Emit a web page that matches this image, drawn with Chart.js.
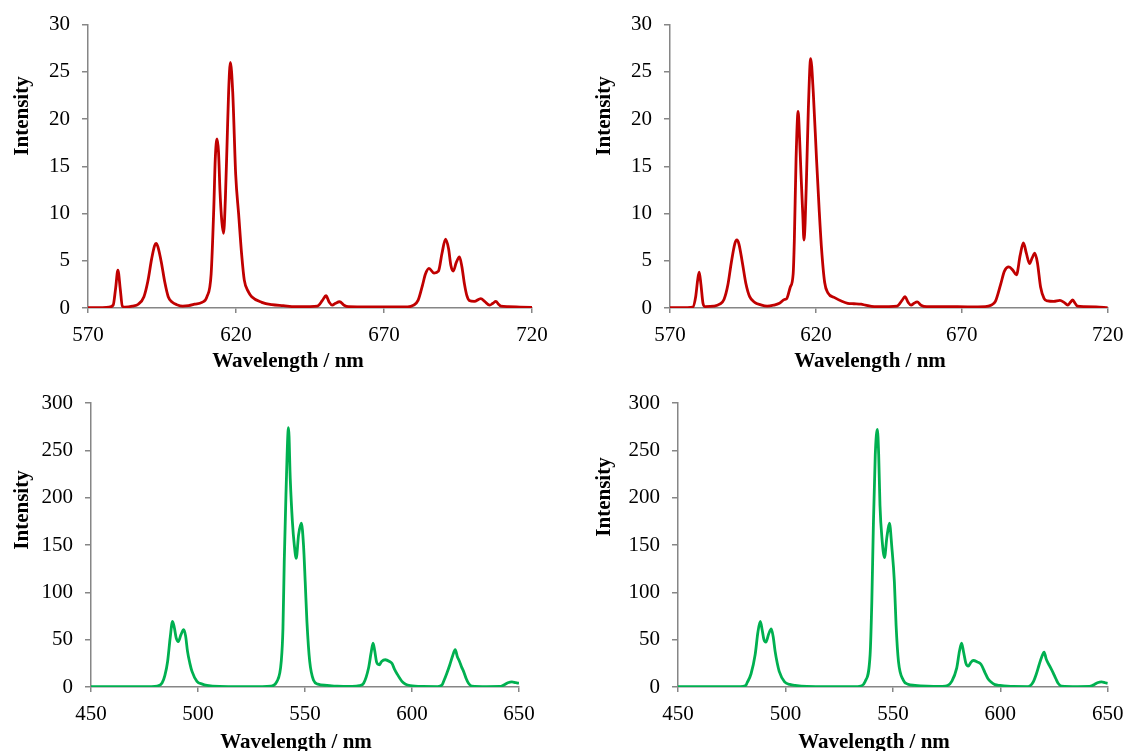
<!DOCTYPE html>
<html>
<head>
<meta charset="utf-8">
<script src="https://cdn.jsdelivr.net/npm/chart.js@4.4.0/dist/chart.umd.min.js"></script>
<style>
  html, body { margin: 0; padding: 0; background: #fff; }
  #page { position: relative; width: 1133px; height: 751px; overflow: hidden; }
  #page canvas { position: absolute; left: 0; top: 0; }
  .title {
    position: absolute;
    font: bold 21px 'Liberation Serif', 'Times New Roman', serif;
    color: #000;
    white-space: nowrap;
    line-height: 1;
  }
  .xt { transform: translate(-50%, -50%); }
  .yt { transform: translate(-50%, -50%) rotate(-90deg); }
</style>
</head>
<body>
<div id="page">
  <canvas id="chartTL" width="1133" height="751"></canvas>
  <canvas id="chartTR" width="1133" height="751"></canvas>
  <canvas id="chartBL" width="1133" height="751"></canvas>
  <canvas id="chartBR" width="1133" height="751"></canvas>

  <div class="title yt" style="left:21px; top:116px;">Intensity</div>
  <div class="title yt" style="left:603px; top:116px;">Intensity</div>
  <div class="title yt" style="left:21px; top:510px;">Intensity</div>
  <div class="title yt" style="left:603px; top:497px;">Intensity</div>
  <div class="title xt" style="left:288px; top:360px;">Wavelength / nm</div>
  <div class="title xt" style="left:870px; top:360px;">Wavelength / nm</div>
  <div class="title xt" style="left:296px; top:741px;">Wavelength / nm</div>
  <div class="title xt" style="left:874px; top:741px;">Wavelength / nm</div>
</div>

<script>
// Spectrum data (wavelength in nm, intensity)
const redAWave = [570, 574, 577, 578.5, 579.3, 580.1, 580.9, 581.6, 582.5, 585, 587, 588.9, 590.2, 591.5, 592.5, 593.0, 593.6, 594.8, 595.9, 597.1, 598.5, 600, 602, 604, 606, 608.5, 610.2, 611.6, 612.5, 613.0, 613.6, 614.1, 614.6, 615.2, 615.8, 616.4, 617.0, 617.5, 618.1, 618.9, 619.9, 620.9, 621.9, 622.8, 624.2, 625.3, 628.7, 632.1, 636, 640, 645, 647.5, 649.2, 650.4, 651.5, 652.5, 653.6, 655.0, 656.5, 658, 665, 672, 678, 680, 681.5, 683, 684, 685.2, 686.9, 688.4, 689.6, 690.8, 691.8, 692.6, 693.4, 694.4, 695.5, 696.3, 697.2, 698, 698.8, 700.5, 702.7, 704, 705.7, 706.8, 707.8, 708.7, 709.5, 712, 716, 720];
const redAInt  = [0.05, 0.05, 0.08, 0.3, 2.0, 4.0, 2.0, 0.2, 0.1, 0.2, 0.4, 1.2, 2.8, 5.2, 6.6, 6.85, 6.5, 4.8, 2.8, 1.2, 0.6, 0.35, 0.2, 0.25, 0.4, 0.6, 1.2, 3.6, 10.6, 15.8, 17.9, 16.5, 12.3, 9.2, 7.9, 11.5, 17.6, 22.8, 26.0, 22.8, 14.1, 9.9, 5.7, 2.95, 1.7, 1.2, 0.6, 0.35, 0.25, 0.15, 0.15, 0.2, 0.8, 1.3, 0.6, 0.3, 0.5, 0.66, 0.3, 0.15, 0.12, 0.12, 0.12, 0.3, 0.8, 2.4, 3.6, 4.2, 3.7, 3.9, 5.8, 7.3, 6.3, 4.5, 3.9, 4.8, 5.4, 4.4, 2.5, 1.3, 0.8, 0.7, 1.0, 0.7, 0.3, 0.5, 0.7, 0.4, 0.2, 0.15, 0.1, 0.05];

const redBWave = [570, 576, 577.8, 578.8, 579.5, 580.0, 580.6, 581.3, 582, 585, 587, 588.5, 589.8, 591, 592.2, 592.9, 593.6, 594.8, 596, 597.3, 599, 601, 603.3, 605.5, 607.5, 609.2, 610.0, 611.2, 612.2, 612.6, 613.2, 613.9, 614.4, 614.9, 615.5, 615.9, 616.3, 616.8, 617.4, 618.2, 619.1, 620.2, 621.1, 621.9, 623.0, 624.1, 626.4, 630.9, 633, 635.5, 637, 640, 645, 647.8, 649.5, 650.5, 651.6, 652.6, 653.6, 654.7, 656, 658, 665, 672, 678, 680, 681.5, 683.3, 684.6, 686.1, 687.5, 688.7, 690, 691.1, 692.1, 693.2, 694.1, 695.0, 695.9, 697.0, 698.2, 699.4, 701.5, 703.6, 705, 706.3, 707.2, 708.0, 708.8, 709.6, 712, 716, 720];
const redBInt  = [0.05, 0.05, 0.1, 1.2, 3.0, 3.8, 2.5, 0.5, 0.15, 0.2, 0.4, 0.9, 2.4, 4.8, 6.8, 7.2, 6.8, 4.8, 2.6, 1.2, 0.6, 0.35, 0.2, 0.3, 0.5, 0.9, 1.0, 2.2, 3.6, 7.1, 15.8, 20.8, 18.0, 14.1, 9.9, 7.2, 9.0, 14.1, 21.0, 26.4, 22.8, 15.8, 10.5, 6.4, 2.7, 1.6, 1.1, 0.5, 0.45, 0.4, 0.3, 0.15, 0.15, 0.2, 0.8, 1.2, 0.6, 0.3, 0.5, 0.65, 0.3, 0.15, 0.15, 0.12, 0.15, 0.3, 0.7, 2.5, 3.9, 4.35, 4.0, 3.5, 5.6, 6.9, 5.8, 4.7, 5.3, 5.8, 4.8, 2.2, 1.0, 0.75, 0.7, 0.8, 0.6, 0.3, 0.6, 0.85, 0.5, 0.2, 0.15, 0.12, 0.05];

const greenAWave = [450, 470, 478, 481, 483.2, 484.5, 485.8, 487, 488.1, 489.0, 489.8, 490.8, 492, 493.3, 494.2, 495.1, 496.2, 497.2, 499.5, 502, 504.2, 510, 520, 530, 534, 536.9, 538.9, 539.7, 540.3, 541.1, 542.3, 543.1, 544.1, 545.0, 545.9, 547.0, 548.3, 549.3, 550.1, 550.9, 552.2, 554.0, 556, 560.3, 565, 572, 575.5, 577.4, 579.7, 580.8, 581.8, 582.6, 583.5, 584.7, 585.8, 587.5, 589.5, 590.6, 591.8, 593.0, 595.3, 597, 599.2, 605, 612, 614, 614.8, 616.2, 617.6, 619, 620.2, 621.2, 622.2, 623.2, 624.1, 625.3, 626.4, 628, 635, 641, 642.8, 644.8, 646.7, 648.5, 650];
const greenAInt  = [0.3, 0.3, 0.4, 1.0, 4.2, 12, 27, 52, 69.3, 62, 52, 48, 55, 60.5, 54, 37.6, 25, 16.5, 6, 3, 1.7, 0.6, 0.4, 0.4, 0.8, 5.9, 27, 62, 132, 203, 274, 220.5, 175, 150, 136, 160.7, 173, 150, 111, 69, 27, 7, 3, 1.7, 0.8, 0.6, 1.5, 4, 20, 35, 46.4, 38, 26, 23.5, 27, 28.8, 27, 25, 19, 14, 6, 3, 1.5, 0.6, 0.5, 2, 6, 14, 23, 33, 39.4, 32, 27, 21, 16.5, 9, 4, 1, 0.5, 0.6, 2, 4.5, 5.5, 4.5, 4];

const greenBWave = [450, 470, 479, 481.5, 482.1, 484, 485.9, 487.2, 488.3, 489.2, 490.0, 490.9, 492.2, 493.4, 494.3, 495.2, 496.2, 497.1, 499.6, 502, 504.5, 510, 520, 532, 535, 537.1, 539.4, 540.2, 540.9, 541.8, 542.8, 543.4, 544.0, 545.0, 546.1, 547.2, 548.4, 549.5, 550.7, 551.5, 552.6, 554.9, 557, 560.3, 566, 573, 575.5, 577.4, 579.7, 581, 582.0, 582.9, 584, 585.1, 586.3, 587.4, 589.3, 591.0, 592.9, 594.2, 595.7, 597.5, 599.9, 606, 613, 615.3, 616.8, 618.0, 619.3, 620.4, 621.3, 622.3, 623.5, 624.6, 625.8, 626.9, 628.5, 636, 641.5, 643.2, 645.2, 647.1, 648.8, 650];
const greenBInt  = [0.3, 0.3, 0.4, 1.5, 4.2, 14, 34, 58, 69.3, 60, 50, 47.4, 56, 61.5, 53, 37.6, 25, 16.5, 5.3, 2.8, 1.7, 0.6, 0.4, 0.4, 1, 5.9, 34, 90, 168, 245, 272, 245, 192, 155, 136.8, 158, 173, 148, 111, 65, 27, 7, 3, 1.7, 0.8, 0.6, 1.5, 5.9, 20, 38, 46.4, 37, 25, 22, 26, 28, 26.5, 24, 15, 9, 5.3, 2.5, 1.7, 0.6, 0.5, 5.3, 14, 23, 32, 36.9, 30, 25, 20, 15, 9, 4, 1, 0.5, 0.6, 2, 4.5, 5.5, 4.5, 3.8];

// axis ranges and tick steps
const redXRange = [570, 720], redXStep = 50;
const redYRange = [0, 30], redYStep = 5;
const greenXRange = [450, 650], greenXStep = 50;
const greenYRange = [0, 300], greenYStep = 50;

const FONT = "'Liberation Serif', 'Times New Roman', serif";
const AXIS_GREY = '#868686';
const Y_AXIS_W = 80;
const X_AXIS_H = 40;

function makeSpectrum(id, wave, inten, color, xRange, xStep, yRange, yStep, box) {
  const points = wave.map((w, i) => ({ x: w, y: inten[i] }));
  const ctx = document.getElementById(id).getContext('2d');
  return new Chart(ctx, {
    type: 'line',
    data: {
      datasets: [{
        data: points,
        borderColor: color,
        borderWidth: 2.8,
        pointRadius: 0,
        fill: false,
        cubicInterpolationMode: 'monotone'
      }]
    },
    options: {
      responsive: false,
      animation: false,
      devicePixelRatio: 1,
      layout: {
        padding: {
          left: box.left - Y_AXIS_W,
          top: box.top,
          right: 1133 - box.right,
          bottom: 751 - box.bottom - X_AXIS_H
        }
      },
      plugins: {
        legend: { display: false },
        tooltip: { enabled: false }
      },
      scales: {
        x: {
          type: 'linear',
          min: xRange[0],
          max: xRange[1],
          afterFit: s => { s.height = X_AXIS_H; },
          ticks: {
            stepSize: xStep,
            color: '#000',
            padding: 9.5,
            maxRotation: 0,
            font: { family: FONT, size: 21 }
          },
          grid: { drawOnChartArea: false, drawTicks: true, tickLength: 5, color: AXIS_GREY, lineWidth: 1.5 },
          border: { display: true, color: AXIS_GREY, width: 1.5 }
        },
        y: {
          type: 'linear',
          min: yRange[0],
          max: yRange[1],
          afterFit: s => { s.width = Y_AXIS_W; },
          ticks: {
            stepSize: yStep,
            color: '#000',
            padding: 12,
            font: { family: FONT, size: 21 }
          },
          grid: { drawOnChartArea: false, drawTicks: true, tickLength: 6, color: AXIS_GREY, lineWidth: 1.5 },
          border: { display: true, color: AXIS_GREY, width: 1.5 }
        }
      }
    }
  });
}

// plot-area boxes of the four panels on the page
const boxTL = { left: 88, top: 21, right: 532, bottom: 308 };
const boxTR = { left: 670, top: 21, right: 1113, bottom: 308 };
const boxBL = { left: 91, top: 403, right: 519, bottom: 687 };
const boxBR = { left: 678, top: 403, right: 1108, bottom: 687 };

makeSpectrum('chartTL', redAWave, redAInt, '#C00000', redXRange, redXStep, redYRange, redYStep, boxTL);
makeSpectrum('chartTR', redBWave, redBInt, '#C00000', redXRange, redXStep, redYRange, redYStep, boxTR);
makeSpectrum('chartBL', greenAWave, greenAInt, '#00B050', greenXRange, greenXStep, greenYRange, greenYStep, boxBL);
makeSpectrum('chartBR', greenBWave, greenBInt, '#00B050', greenXRange, greenXStep, greenYRange, greenYStep, boxBR);
</script>
</body>
</html>
